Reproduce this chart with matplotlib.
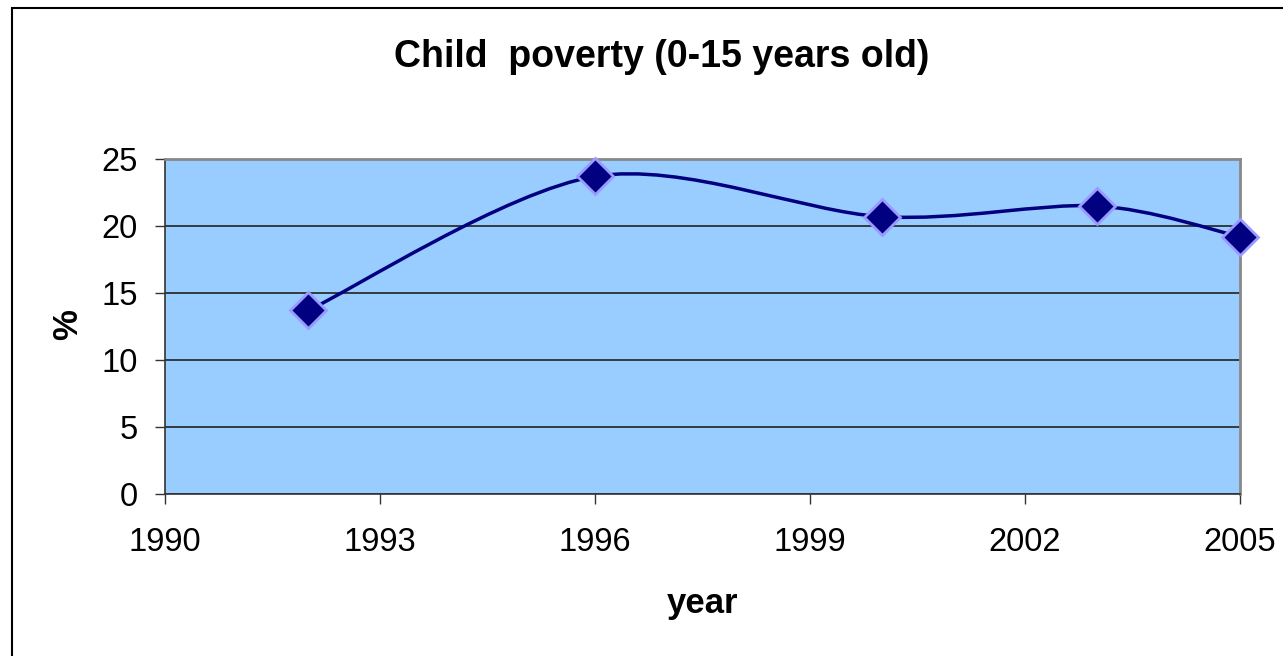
import matplotlib
matplotlib.use("Agg")
import matplotlib.pyplot as plt
from matplotlib.path import Path
from matplotlib.patches import PathPatch, Rectangle
import numpy as np

years = [1992, 1996, 2000, 2003, 2005]
poverty = [13.7, 23.7, 20.7, 21.5, 19.2]
xticks = [1990, 1993, 1996, 1999, 2002, 2005]
yticks = [0, 5, 10, 15, 20, 25]
title = "Child  poverty (0-15 years old)"
xlabel = "year"
ylabel = "%"

plt.rcParams['font.family'] = ['Liberation Sans', 'DejaVu Sans']

W, H = 1283, 656
fig = plt.figure(figsize=(W / 100, H / 100), dpi=100)
fig.patch.set_facecolor("white")
# chart border
fig.patches.append(Rectangle((12 / W, -0.1), 1.2, 1 - 8 / H + 0.1, transform=fig.transFigure,
                             fill=False, edgecolor="black", linewidth=1.5))

L, R, T, B = 165, 1240, 159, 494
ax = fig.add_axes([L / W, 1 - B / H, (R - L) / W, (B - T) / H])
ax.set_facecolor("#99CCFF")
ax.set_xlim(1990, 2005)
ax.set_ylim(0, 25)
ax.set_xticks(xticks)
ax.set_yticks(yticks)
ax.tick_params(labelsize=23.5, length=7.5, width=1, color="#333333")
ax.tick_params(axis="y", pad=12)
ax.tick_params(axis="x", pad=16.5)
for s in ["top", "right"]:
    ax.spines[s].set_color("#888888")
    ax.spines[s].set_linewidth(2)
for s in ["left", "bottom"]:
    ax.spines[s].set_color("#333333")
    ax.spines[s].set_linewidth(1.2)
ax.grid(axis="y", color="#222222", linewidth=1.2)
ax.set_axisbelow(True)

# Smoothed line (Catmull-Rom style Bezier, as in spreadsheet "smoothed line")
pts = np.column_stack([years, poverty]).astype(float)
n = len(pts)
tension = 1 / 6.5
verts = [tuple(pts[0])]
codes = [Path.MOVETO]
for i in range(n - 1):
    p0 = pts[i - 1] if i > 0 else pts[i]
    p1 = pts[i]
    p2 = pts[i + 1]
    p3 = pts[i + 2] if i + 2 < n else pts[i + 1]
    c1 = p1 + (p2 - p0) * tension
    c2 = p2 - (p3 - p1) * tension
    verts += [tuple(c1), tuple(c2), tuple(p2)]
    codes += [Path.CURVE4] * 3
ax.add_patch(PathPatch(Path(verts, codes), facecolor="none", edgecolor="#000080",
                       linewidth=2.5, clip_on=False, zorder=3))
ax.plot(years, poverty, linestyle="none", marker="D", markersize=18,
        markerfacecolor="#000080", markeredgecolor="#9999FF", markeredgewidth=2,
        clip_on=False, zorder=4)

fig.text(662 / W, 1 - 57 / H, title, ha="center", va="center",
         fontsize=27, fontweight="bold")
fig.text((L + R) / 2 / W, 1 - 603 / H, xlabel, ha="center", va="center",
         fontsize=25, fontweight="bold")
fig.text(68 / W, 1 - 325 / H, ylabel, ha="center", va="center", rotation=90,
         fontsize=25, fontweight="bold")

fig.savefig("out.png", dpi=100)
